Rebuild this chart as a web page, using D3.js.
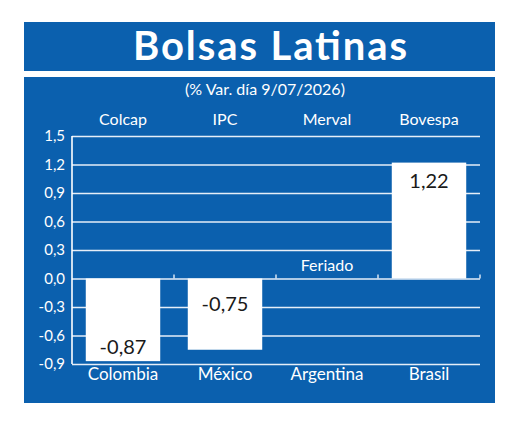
<!DOCTYPE html>
<html><head><meta charset="utf-8">
<script src="https://cdn.jsdelivr.net/npm/d3@7"></script>
<style>body{margin:0;background:#fff}svg{display:block}</style>
</head><body>
<svg id="c" width="520" height="426"></svg>
<script>
const indices = ["Colcap","IPC","Merval","Bovespa"];
const countries = ["Colombia","México","Argentina","Brasil"];
const values = [-0.87, -0.75, null, 1.22];
const valueLabels = ["-0,87","-0,75","Feriado","1,22"];
const yTicks = [-0.9,-0.6,-0.3,0,0.3,0.6,0.9,1.2,1.5];
const title = "Bolsas Latinas";
const subtitle = "(% Var. día 9/07/2026)";

const blue = "#0b60ae";
const svg = d3.select("#c");
const font = "Lato, 'Open Sans', sans-serif";

svg.append("rect").attr("x",24).attr("y",22).attr("width",471).attr("height",49).attr("fill",blue);
svg.append("rect").attr("x",24).attr("y",77).attr("width",471).attr("height",326).attr("fill",blue);

svg.append("text").attr("x",270).attr("y",60).attr("text-anchor","middle")
  .attr("fill","#fff").attr("font-family",font).attr("font-weight","bold").attr("font-size",40)
  .attr("textLength",274).attr("lengthAdjust","spacing")
  .text(title);
svg.append("text").attr("x",265).attr("y",95).attr("text-anchor","middle")
  .attr("fill","#fff").attr("font-family",font).attr("font-size",16).text(subtitle);

const x = d3.scaleBand().domain(countries).range([72,480]).paddingInner(0.27).paddingOuter(0.135);
const xb = d3.scaleBand().domain(countries).range([72,480]);
const y = d3.scaleLinear().domain([-0.9,1.5]).range([364,136]);

const fmt = d => d3.format(".1f")(d).replace(".",",").replace("−","-");

// gridlines
const grid = svg.append("g").attr("transform","translate(72,0)")
  .call(d3.axisLeft(y).tickValues(yTicks).tickSize(-408).tickFormat(fmt).tickPadding(7));
grid.select(".domain").remove();
grid.selectAll(".tick line").attr("stroke","#e6eef8").attr("stroke-width",1.6);
grid.selectAll(".tick text").attr("fill","#fff").attr("font-family",font).attr("font-size",15);

// left axis line
svg.append("line").attr("x1",72).attr("x2",72).attr("y1",y(1.5)).attr("y2",y(-0.9))
  .attr("stroke","#fff").attr("stroke-width",1.6);

// zero axis tick marks at band boundaries
svg.selectAll(null).data(countries).enter().append("line")
  .attr("x1",d=>xb(d)+xb.bandwidth()).attr("x2",d=>xb(d)+xb.bandwidth())
  .attr("y1",y(0)).attr("y2",y(0)-4).attr("stroke","#e6eef8").attr("stroke-width",1.4);

// bars
const data = countries.map((c,i)=>({c, v: values[i], lab: valueLabels[i], idx: indices[i]}));
svg.selectAll("rect.bar").data(data.filter(d=>d.v!==null)).enter().append("rect")
  .attr("class","bar").attr("x",d=>x(d.c)).attr("width",x.bandwidth())
  .attr("y",d=>y(Math.max(0,d.v))).attr("height",d=>Math.abs(y(d.v)-y(0)))
  .attr("fill","#fff");

// value labels
svg.selectAll("text.val").data(data).enter().append("text").attr("class","val")
  .attr("x",d=>x(d.c)+x.bandwidth()/2)
  .attr("y",(d,i)=> i===0 ? y(d.v)-7 : i===1 ? y(0)+32 : i===2 ? y(0)-8 : y(d.v)+25)
  .attr("text-anchor","middle")
  .attr("fill",d=>d.v===null?"#fff":"#1a1a1a")
  .attr("font-family",font).attr("font-size",d=>d.v===null?16:20)
  .text(d=>d.lab);

// top category labels
svg.selectAll("text.idx").data(data).enter().append("text").attr("class","idx")
  .attr("x",d=>xb(d.c)+xb.bandwidth()/2).attr("y",125).attr("text-anchor","middle")
  .attr("fill","#fff").attr("font-family",font).attr("font-size",16).text(d=>d.idx);

// bottom axis labels
const bAxis = svg.append("g").attr("transform",`translate(0,${y(-0.9)})`)
  .call(d3.axisBottom(xb).tickSize(0).tickPadding(4));
bAxis.select(".domain").remove();
bAxis.selectAll("text").attr("fill","#fff").attr("font-family",font).attr("font-size",17);
</script>
</body></html>
